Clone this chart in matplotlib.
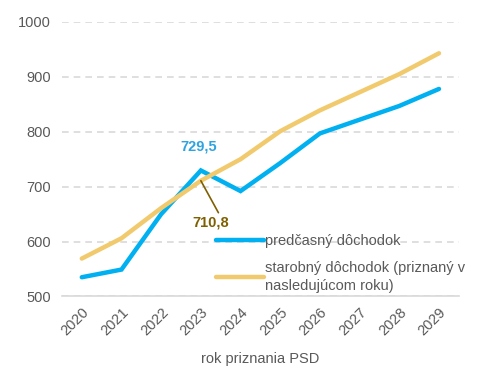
import matplotlib
matplotlib.use("Agg")
import matplotlib.pyplot as plt

years = ["2020", "2021", "2022", "2023", "2024", "2025", "2026", "2027", "2028", "2029"]
predcasny = [535, 549, 650, 729.5, 692, 743, 797, 822, 847, 878]
starobny = [569, 606, 661, 710.8, 750, 801, 839, 872, 905, 943]
yticks = [500, 600, 700, 800, 900, 1000]
label_pred = "predčasný dôchodok"
label_star = "starobný dôchodok (priznaný v\nnasledujúcom roku)"
xlabel = "rok priznania PSD"

plt.rcParams['font.family'] = ['Liberation Sans', 'DejaVu Sans']

fig = plt.figure(figsize=(4.84, 3.66), dpi=100)
ax = fig.add_axes([0.128, 0.19, 0.82, 0.75])

x = list(range(len(years)))
blue = "#00B0F0"
gold = "#F2CA6E"
ax.plot(x, predcasny, color=blue, lw=3.2, label=label_pred, solid_capstyle='round', solid_joinstyle='miter', zorder=3)
ax.plot(x, starobny, color=gold, lw=3.2, label=label_star, solid_capstyle='round', zorder=3)

ax.set_ylim(500, 1000)
ax.set_xlim(-0.5, len(years) - 0.5)
ax.set_yticks(yticks)
ax.set_xticks(x)
ax.set_xticklabels(years, rotation=45, ha='right', rotation_mode='anchor', fontsize=10.5, color='#595959')
ax.tick_params(axis='y', labelsize=10.5, colors='#595959', length=0, pad=8)
ax.tick_params(axis='x', length=0, pad=6)
ax.yaxis.grid(True, color='#D9D9D9', linestyle=(0, (4, 3)), lw=1.2)
ax.set_axisbelow(True)
for s in ['top', 'right', 'left']:
    ax.spines[s].set_visible(False)
ax.spines['bottom'].set_color('#D9D9D9')
ax.spines['bottom'].set_linewidth(1.2)
ax.set_xlabel(xlabel, fontsize=10.5, color='#595959', labelpad=10)

ax.annotate("729,5", xy=(3, predcasny[3]), xytext=(3 - 0.05, predcasny[3] + 30),
            color='#2EA3E0', fontsize=10.5, fontweight='bold', ha='center', va='bottom')
ax.annotate("710,8", xy=(3, starobny[3]), xytext=(3.25, 622),
            color='#7F6000', fontsize=10.5, fontweight='bold', ha='center', va='bottom',
            arrowprops=dict(arrowstyle='-', color='#7F6000', lw=1.2, shrinkA=0, shrinkB=0,
                            relpos=(0.75, 1.0)))

leg = ax.legend(loc='lower left', bbox_to_anchor=(0.355, -0.035), frameon=False, fontsize=10.5,
                handlelength=3.3, handletextpad=0.05, labelspacing=0.9, labelcolor='#595959')
for t in leg.get_texts():
    t.set_linespacing(1.35)

fig.savefig("out.png", dpi=100)
